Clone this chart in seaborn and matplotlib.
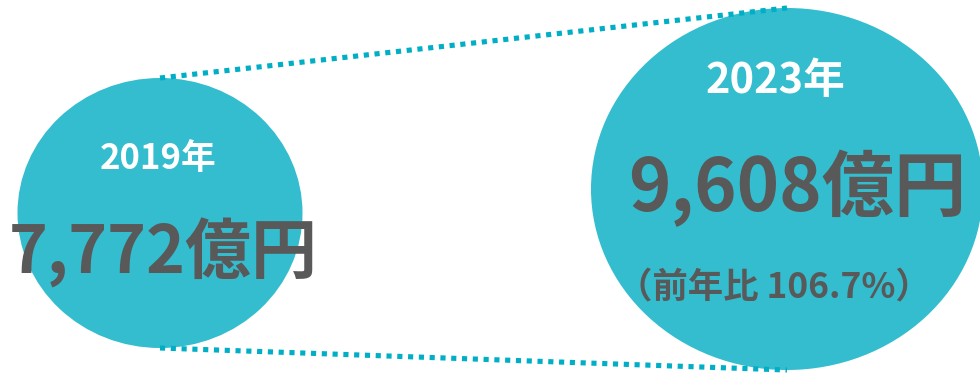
import numpy as np
import pandas as pd
import matplotlib.pyplot as plt
import seaborn as sns
from matplotlib.patches import Ellipse

# 数値データ
years = ["2019年", "2023年"]
values = [7772, 9608]          # 億円
yoy_label = "（前年比 106.7%）"

# レイアウト (ピクセル座標)
centers = [(160, 213), (787, 189)]
sizes = [(285, 270), (392, 362)]

circle_color = "#33BDCE"
line_color = "#00AFC6"
text_grey = "#595959"

sns.set_theme(style="white")
plt.rcParams['font.family'] = ['Noto Sans CJK JP', 'DejaVu Sans']

fig = plt.figure(figsize=(9.8, 3.73), dpi=100)
ax = fig.add_axes([0, 0, 1, 1])
ax.set_xlim(0, 980)
ax.set_ylim(373, 0)
ax.axis('off')

for (cx, cy), (w, h) in zip(centers, sizes):
    ax.add_patch(Ellipse((cx, cy), w, h, color=circle_color, lw=0, zorder=1))

# 点線 (円の上端同士・下端同士)
tops = [cy - h / 2 for (cx, cy), (w, h) in zip(centers, sizes)]
bottoms = [cy + h / 2 for (cx, cy), (w, h) in zip(centers, sizes)]
xs = [c[0] for c in centers]
for ys in (tops, bottoms):
    df = pd.DataFrame({"x": xs, "y": ys})
    sns.lineplot(data=df, x="x", y="y", ax=ax, color=line_color, lw=3.7,
                 zorder=3, sort=False)
for ln in ax.lines:
    ln.set_dashes((1, 1.1))
    ln.set_dash_capstyle('butt')

# テキスト
year_pos = [(158, 158), (775, 81)]
year_size = [25, 30]
value_pos = [(163, 253), (797, 188)]
value_size = [47.5, 52]
for i in range(2):
    ax.text(*year_pos[i], years[i], color="white", fontsize=year_size[i],
            fontweight='bold', ha='center', va='center', zorder=4)
    ax.text(*value_pos[i], f"{values[i]:,}億円", color=text_grey,
            fontsize=value_size[i], fontweight='bold', ha='center',
            va='center', zorder=4)
ax.text(774, 288, yoy_label, color=text_grey, fontsize=25.5, fontweight='bold',
        ha='center', va='center', zorder=4)

fig.savefig("out.png", dpi=100)
